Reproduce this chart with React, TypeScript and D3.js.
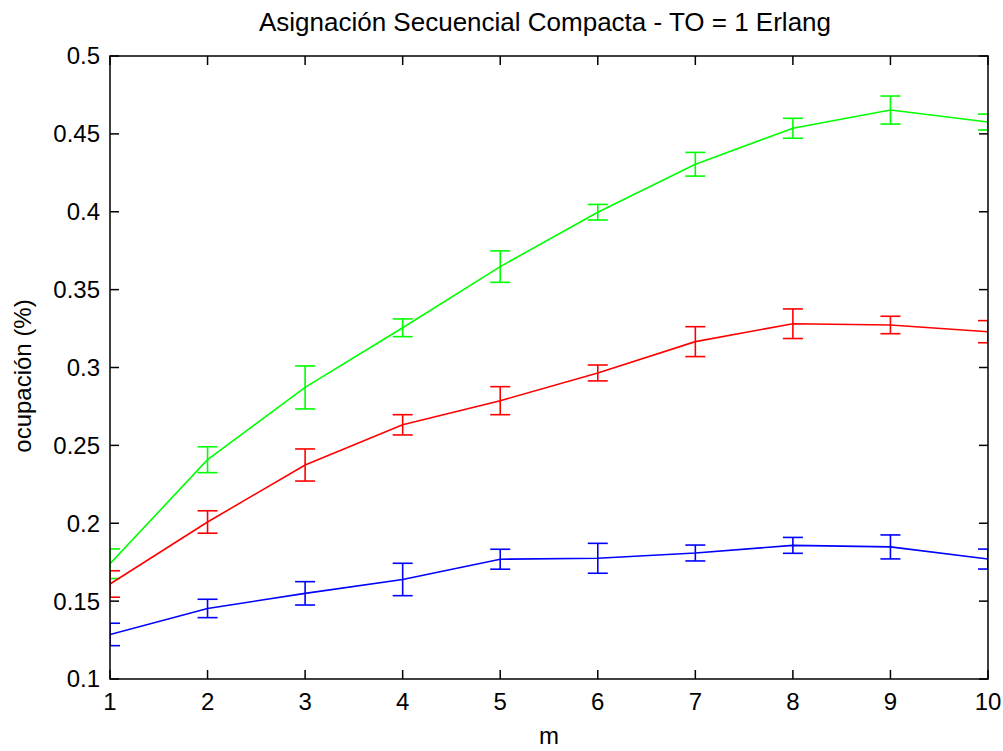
import React from "react";
import * as d3 from "d3";

// Número de canales m
const mValues = [1, 2, 3, 4, 5, 6, 7, 8, 9, 10];

// Ocupación media e intervalo de confianza por serie
const greenMean = [0.174, 0.2408, 0.2872, 0.3255, 0.3648, 0.3997, 0.4305, 0.4536, 0.4653, 0.4576];
const greenErr = [0.0095, 0.0083, 0.0138, 0.0057, 0.0101, 0.005, 0.0076, 0.0064, 0.009, 0.0051];

const redMean = [0.161, 0.2008, 0.2374, 0.2632, 0.2787, 0.2965, 0.3166, 0.3281, 0.3273, 0.323];
const redErr = [0.0085, 0.0072, 0.0103, 0.0065, 0.009, 0.0051, 0.0096, 0.0095, 0.0056, 0.0071];

const blueMean = [0.1286, 0.1453, 0.155, 0.1639, 0.1769, 0.1775, 0.1809, 0.1858, 0.1848, 0.177];
const blueErr = [0.0072, 0.0059, 0.0075, 0.0104, 0.0064, 0.0096, 0.0051, 0.0051, 0.0077, 0.0064];

const yTicks = [0.1, 0.15, 0.2, 0.25, 0.3, 0.35, 0.4, 0.45, 0.5];
const yTickLabels = ["0.1", "0.15", "0.2", "0.25", "0.3", "0.35", "0.4", "0.45", "0.5"];

const titleText = "Asignación Secuencial Compacta - TO = 1 Erlang";
const xLabel = "m";
const yLabel = "ocupación (%)";

const W = 1003;
const H = 751;
const left = 110;
const right = 988;
const top = 56;
const bottom = 679;
const FONT = "'Liberation Sans', Arial, sans-serif";
const FS = 24;

const series = [
  { color: "#00ff00", mean: greenMean, err: greenErr },
  { color: "#ff0000", mean: redMean, err: redErr },
  { color: "#0000ff", mean: blueMean, err: blueErr },
];

export default function App() {
  const x = d3.scaleLinear().domain([1, 10]).range([left, right]);
  const y = d3.scaleLinear().domain([0.1, 0.5]).range([bottom, top]);
  const line = d3
    .line<number>()
    .x((_, i) => x(mValues[i]))
    .y((d) => y(d));
  const cap = 10;
  const tick = 9;

  return (
    <div style={{ position: "fixed", left: 0, top: 0 }}>
      <svg width={W} height={H} style={{ display: "block", background: "#fff" }}>
        <defs>
          <clipPath id="plotClip">
            <rect x={left} y={top} width={right - left} height={bottom - top} />
          </clipPath>
        </defs>
        <rect x={0} y={0} width={W} height={H} fill="#fff" />

        <g clipPath="url(#plotClip)">
          {series.map((s, si) => (
            <g key={si} stroke={s.color} strokeWidth={1.6} fill="none">
              <path d={line(s.mean) || ""} />
              {s.mean.map((v, i) => {
                const cx = x(mValues[i]);
                const y1 = y(v + s.err[i]);
                const y0 = y(v - s.err[i]);
                return (
                  <g key={i}>
                    <line x1={cx} x2={cx} y1={y1} y2={y0} />
                    <line x1={cx - cap} x2={cx + cap} y1={y1} y2={y1} />
                    <line x1={cx - cap} x2={cx + cap} y1={y0} y2={y0} />
                  </g>
                );
              })}
            </g>
          ))}
        </g>

        {/* marco y marcas de los ejes */}
        <g stroke="#000" strokeWidth={1.5} fill="none">
          <rect x={left} y={top} width={right - left} height={bottom - top} />
          {mValues.map((m) => (
            <g key={m}>
              <line x1={x(m)} x2={x(m)} y1={bottom} y2={bottom - tick} />
              <line x1={x(m)} x2={x(m)} y1={top} y2={top + tick} />
            </g>
          ))}
          {yTicks.map((t) => (
            <g key={t}>
              <line x1={left} x2={left + tick} y1={y(t)} y2={y(t)} />
              <line x1={right} x2={right - tick} y1={y(t)} y2={y(t)} />
            </g>
          ))}
        </g>

        <g fontFamily={FONT} fontSize={FS} fill="#000">
          {mValues.map((m) => (
            <text key={m} x={x(m)} y={bottom + 31} textAnchor="middle">
              {m}
            </text>
          ))}
          {yTicks.map((t, i) => (
            <text key={t} x={left - 10} y={y(t)} dy="0.35em" textAnchor="end">
              {yTickLabels[i]}
            </text>
          ))}
          <text x={545} y={31} textAnchor="middle" fontSize={26}>
            {titleText}
          </text>
          <text x={(left + right) / 2} y={744} textAnchor="middle">
            {xLabel}
          </text>
          <text transform={`translate(31, 376) rotate(-90)`} textAnchor="middle">
            {yLabel}
          </text>
        </g>
      </svg>
    </div>
  );
}
